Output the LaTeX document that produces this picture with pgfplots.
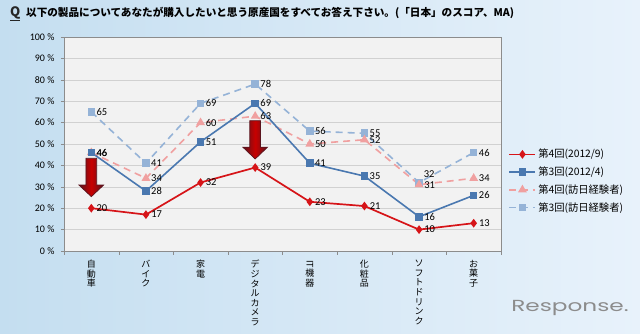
\documentclass[border=0pt]{standalone}
\usepackage{fontspec}
\setmainfont{Carlito}
\newfontfamily\jp{Noto Sans CJK JP}
\newfontfamily\logofont{Poppins}
\usepackage{graphicx}
\usepackage{pgfplots}
\pgfplotsset{compat=1.18}
\definecolor{cred}{RGB}{214,20,24}
\definecolor{cblue}{RGB}{74,120,176}
\definecolor{cpink}{RGB}{240,160,160}
\definecolor{clblue}{RGB}{149,179,215}
\definecolor{bgl}{RGB}{196,222,240}
\definecolor{bgr}{RGB}{232,242,251}
\definecolor{arrowred}{RGB}{200,0,0}
\definecolor{arrowdark}{RGB}{90,20,30}
\begin{document}
\begin{tikzpicture}
\shade[left color=bgl, right color=bgr] (0pt,0pt) rectangle (640pt,334pt);
\node[anchor=west, inner sep=0, font=\jp\bfseries\fontsize{13}{13}\selectfont, text=black!85] at (10pt,320pt) {\underline{Q}};
\node[anchor=west, inner sep=0, font=\jp\bfseries\fontsize{10.6}{11}\selectfont] at (26pt,321pt) {以下の製品についてあなたが購入したいと思う原産国をすべてお答え下さい。(「日本」のスコア、MA)};
\node[text=black!45, font=\logofont\fontsize{16}{16}\selectfont] at (570pt,26pt) {\scalebox{1.45}[1]{Response.}};
\begin{axis}[
  at={(64pt,83pt)}, anchor=south west,
  width=437pt, height=214pt, scale only axis,
  xmin=-0.5, xmax=7.5, ymin=0, ymax=100,
  axis background/.style={fill=black!5},
  axis line style={black!45},
  ytick={0,10,...,100},
  /pgf/number format/assume math mode=true,
  yticklabel={\pgfmathprintnumber{\tick}\ \%},
  yticklabel style={font=\fontsize{10}{10}\selectfont, xshift=-3pt},
  ymajorgrids, grid style={black!18},
  xtick={0,...,7},
  major x tick style={draw=none},
  minor xtick={-0.5,0.5,...,7.5},
  minor x tick style={black!45},
  tick align=outside, tick pos=left,
  major tick length=3pt, minor tick length=4pt,
  ytick style={black!45},
  xticklabels={{自\\動\\車},{バ\\イ\\ク},{家\\電},{デ\\ジ\\タ\\ル\\カ\\メ\\ラ},{\rotatebox{-90}{IT}\\機\\器},{化\\粧\\品},{ソ\\フ\\ト\\ド\\リ\\ン\\ク},{お\\菓\\子}},
  xticklabel style={font=\jp\fontsize{9}{9.6}\selectfont, align=center, anchor=north, inner sep=0, yshift=-6pt},
  legend style={at={(1.01,0.495)}, anchor=north west, draw=none, fill=none,
    font=\jp\fontsize{10.3}{11}\selectfont, row sep=3.5pt, cells={anchor=west}},
  legend image code/.code={\draw[mark repeat=2,mark phase=2,#1] plot coordinates {(0pt,0pt) (13pt,0pt) (26pt,0pt)};},
  reverse legend,
  nodes near coords style={font=\fontsize{10.5}{10.5}\selectfont, black, anchor=west, xshift=3.5pt, inner sep=1pt},
]
% 第3回（訪日経験者）
\addplot[clblue, line width=1.6pt, dash pattern=on 7pt off 5pt, mark=square*, mark size=3pt, mark options={solid, fill=clblue, draw=clblue},
  nodes near coords, point meta=explicit symbolic]
  coordinates {(0,65)[65] (1,41)[41] (2,69)[69] (3,78)[78] (4,56)[56] (5,55)[55] (6,32)[] (7,46)[46]};
% 第4回（訪日経験者）
\addplot[cpink, line width=1.6pt, dash pattern=on 7pt off 5pt, mark=triangle*, mark size=3.5pt, mark options={solid, fill=cpink, draw=cpink},
  nodes near coords, point meta=y]
  coordinates {(0,46) (1,34) (2,60) (3,63) (4,50) (5,52) (6,31) (7,34)};
% 第3回（2012/4）
\addplot[cblue, line width=1.6pt, mark=square*, mark size=3pt, mark options={fill=cblue, draw=cblue},
  nodes near coords, point meta=y]
  coordinates {(0,46) (1,28) (2,51) (3,69) (4,41) (5,35) (6,16) (7,26)};
% 第4回（2012/9）
\addplot[cred, line width=1.7pt, mark=diamond*, mark size=3pt, mark options={fill=cred, draw=cred},
  nodes near coords, point meta=y]
  coordinates {(0,20) (1,17) (2,32) (3,39) (4,23) (5,21) (6,10) (7,13)};
% label 32 placed above
\addplot[draw=none, mark=none, forget plot, nodes near coords, point meta=explicit symbolic,
  nodes near coords style={anchor=south west, xshift=0pt, yshift=4pt}]
  coordinates {(6,32)[32]};
\legend{第3回(訪日経験者),第4回(訪日経験者),第3回(2012/4),第4回(2012/9)}
% arrows
\path[draw=arrowdark, line width=0.7pt, left color=arrowdark, right color=arrowdark, middle color=arrowred]
  (axis cs:-0.098,43.3) -- (axis cs:0.098,43.3) -- (axis cs:0.098,30.8) -- (axis cs:0.225,30.8)
  -- (axis cs:0,25.4) -- (axis cs:-0.225,30.8) -- (axis cs:-0.098,30.8) -- cycle;
\path[draw=arrowdark, line width=0.7pt, left color=arrowdark, right color=arrowdark, middle color=arrowred]
  (axis cs:2.902,60.9) -- (axis cs:3.098,60.9) -- (axis cs:3.098,48.5) -- (axis cs:3.225,48.5)
  -- (axis cs:3,43.0) -- (axis cs:2.775,48.5) -- (axis cs:2.902,48.5) -- cycle;
\end{axis}
\end{tikzpicture}
\end{document}
